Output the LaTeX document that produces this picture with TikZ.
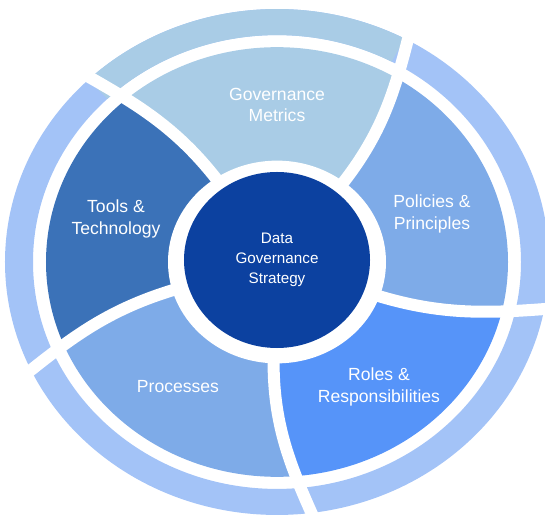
\documentclass[tikz,border=0pt]{standalone}
\usepackage{fontspec}
\setmainfont{Liberation Sans}
\usetikzlibrary{shapes.geometric}
\definecolor{metricsblue}{HTML}{A9CCE6}
\definecolor{policyblue}{HTML}{7EABE8}
\definecolor{rolesblue}{HTML}{5694F9}
\definecolor{toolsblue}{HTML}{3B72B8}
\definecolor{ringblue}{HTML}{A3C3F7}
\definecolor{coreblue}{HTML}{0C41A0}

\begin{document}
\begin{tikzpicture}[x=0.03cm,y=0.03cm]
	\tikzstyle{segtext} = [text=white,align=center,font=\fontsize{15}{18}\selectfont]
	\tikzstyle{gapline} = [white,line width=0.36cm]
	\useasboundingbox (-277,-255) rectangle (268,262);
	\begin{scope}[yscale=0.93]
		% segments
		\begin{scope}
			\clip (0,0) circle (231);
			\foreach \a/\col in {52/metricsblue,124/toolsblue,196/policyblue,268/rolesblue,340/policyblue}
				\fill[\col] (0,0) -- (\a:90) .. controls (\a:170) and ({\a+5}:215) .. ({\a+10}:275)
					arc[start angle=\a+10,end angle=\a+82,radius=275]
					.. controls ({\a+77}:215) and ({\a+72}:170) .. ({\a+72}:90) -- cycle;
		\end{scope}
		% outer ring
		\fill[ringblue,even odd rule] (0,0) circle (272) circle (244);
		\fill[metricsblue] (62:272) arc[start angle=62,end angle=134,radius=272]
			-- (134:244) arc[start angle=134,end angle=62,radius=244] -- cycle;
		% gaps
		\foreach \a in {52,124,...,340}
			\draw[gapline] (\a:90) .. controls (\a:170) and ({\a+5}:215) .. ({\a+10}:285);
		\fill[white] (0,0) circle (109);
	\end{scope}
	% centre
	\node[ellipse,fill=coreblue,minimum width=5.58cm,minimum height=5.28cm,inner sep=0pt,
		text=white,align=center,font=\fontsize{13}{17}\selectfont] (strategy) at (0,2) {Data\\Governance\\Strategy};
	% labels
	\node[segtext] (metrics) at (0,157) {Governance\\Metrics};
	\node[segtext] (policies) at (155,48) {Policies \&\\Principles};
	\node[segtext] (roles) at (102,-125) {Roles \&\\Responsibilities};
	\node[segtext] (processes) at (-99,-125) {Processes};
	\node[segtext] (tools) at (-161,43) {Tools \&\\Technology};
\end{tikzpicture}
\end{document}
